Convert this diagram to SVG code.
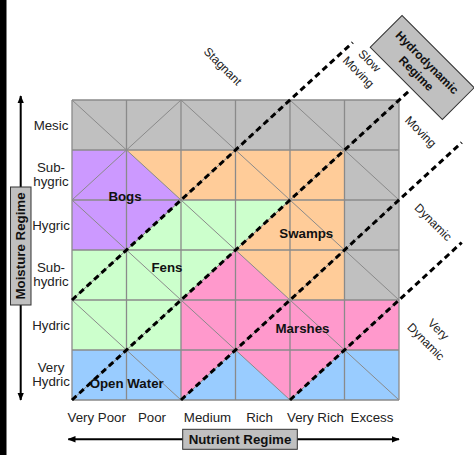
<svg xmlns="http://www.w3.org/2000/svg" width="474" height="455" viewBox="0 0 474 455">
<style>
.lbl{font-family:"Liberation Sans",Arial,sans-serif;font-size:13.3px;fill:#222;text-anchor:middle}
.rot{font-family:"Liberation Sans",Arial,sans-serif;font-size:12px;fill:#222;text-anchor:middle}
.reg{font-family:"Liberation Sans",Arial,sans-serif;font-size:13.3px;font-weight:bold;fill:#111;text-anchor:middle}
.box{fill:#c0c0c0;stroke:#333;stroke-width:1}
.grid{stroke:#8a8a8a;stroke-width:1.3;fill:none}
.diag{stroke:#8a8a8a;stroke-width:1;fill:none}
.dash{stroke:#000;stroke-width:3;stroke-dasharray:6,4;fill:none}
.axis{stroke:#000;stroke-width:2;fill:none}
</style>
<defs>
<marker id="ah" viewBox="0 0 10 10" refX="9" refY="5" markerWidth="4" markerHeight="4" orient="auto" markerUnits="strokeWidth">
<path d="M0,1 L10,5 L0,9 Z" fill="#000"/>
</marker>
</defs>
<rect x="0" y="0" width="474" height="455" fill="#fff"/>
<rect x="0" y="0" width="6.5" height="455" fill="#000"/>

<g id="regions">
<rect id="gray-zone" x="72" y="100" width="327" height="300" fill="#c0c0c0"/>
<polygon id="bogs-fill" points="72,150 126.5,150 181,200 126.5,250 72,250" fill="#cc99ff"/>
<polygon id="swamps-fill" points="126.5,150 344.5,150 344.5,300 290,300 235.5,250 290,200 181,200" fill="#ffcc99"/>
<polygon id="fens-fill" points="72,250 126.5,250 181,200 290,200 235.5,250 181,300 181,350 72,350" fill="#ccffcc"/>
<rect id="water-fill" x="72" y="350" width="327" height="50" fill="#99ccff"/>
<polygon id="marshes-fill" points="181,300 235.5,250 290,300 399,300 399,350 344.5,350 290,400 235.5,350 181,400" fill="#ff99cc"/>
</g>

<g id="grid">
<path class="grid" d="M72,100V400M126.5,100V400M181,100V400M235.5,100V400M290,100V400M344.5,100V400M399,100V400M72,100H399M72,150H399M72,200H399M72,250H399M72,300H399M72,350H399M72,400H399"/>
<path class="diag" d="M72,300L181,400M72,200L290,400M72,100L399,400M181,100L399,300M290,100L399,200M72,200L181,100M72,300L290,100M72,400L399,100M181,400L399,200M290,400L399,300"/>
</g>

<g id="connectors">
<line class="dash" x1="72" y1="300" x2="352.7" y2="42.5"/>
<line class="dash" x1="72" y1="400" x2="410" y2="90"/>
<line class="dash" x1="181" y1="400" x2="461.7" y2="142.5"/>
<line class="dash" x1="290" y1="400" x2="461.7" y2="242.5"/>
<line class="axis" x1="20.7" y1="250" x2="20.7" y2="96" marker-end="url(#ah)"/>
<line class="axis" x1="20.7" y1="250" x2="20.7" y2="400" marker-end="url(#ah)"/>
<line class="axis" x1="240" y1="439.3" x2="68.3" y2="439.3" marker-end="url(#ah)"/>
<line class="axis" x1="240" y1="439.3" x2="399" y2="439.3" marker-end="url(#ah)"/>
</g>

<g id="moisture-regime">
<rect class="box" x="10.5" y="187" width="20.5" height="118"/>
<text class="reg" transform="translate(20.75,246) rotate(-90)" y="4.7">Moisture Regime</text>
</g>
<g id="nutrient-regime">
<rect class="box" x="182.7" y="429.3" width="114.6" height="20"/>
<text class="reg" x="240" y="444">Nutrient Regime</text>
</g>
<g id="hydrodynamic-regime" transform="translate(422.2,67.5) rotate(45)">
<rect class="box" x="-51" y="-22.5" width="102" height="45"/>
<text class="reg" style="font-size:12px" y="-2.9">Hydrodynamic</text>
<text class="reg" style="font-size:12px" y="12.5">Regime</text>
</g>

<g id="region-labels">
<text id="bogs" class="reg" x="125" y="201">Bogs</text>
<text id="fens" class="reg" x="167" y="272">Fens</text>
<text id="swamps" class="reg" x="306.3" y="238">Swamps</text>
<text id="marshes" class="reg" x="302.5" y="333">Marshes</text>
<text id="open-water" class="reg" x="126.7" y="388">Open Water</text>
</g>

<g id="moisture-labels">
<text class="lbl" x="51" y="129.7">Mesic</text>
<text class="lbl" x="51" y="171.5">Sub-</text>
<text class="lbl" x="51" y="186">hygric</text>
<text class="lbl" x="51" y="229.6">Hygric</text>
<text class="lbl" x="51" y="271.5">Sub-</text>
<text class="lbl" x="51" y="286">hydric</text>
<text class="lbl" x="51" y="329.6">Hydric</text>
<text class="lbl" x="51" y="371.5">Very</text>
<text class="lbl" x="51" y="386">Hydric</text>
</g>

<g id="nutrient-labels">
<text class="lbl" x="96.7" y="421.5">Very Poor</text>
<text class="lbl" x="152" y="421.5">Poor</text>
<text class="lbl" x="207.5" y="421.5">Medium</text>
<text class="lbl" x="259.5" y="421.5">Rich</text>
<text class="lbl" x="315.5" y="421.5">Very Rich</text>
<text class="lbl" x="372" y="421.5">Excess</text>
</g>

<g id="hydro-labels">
<text class="rot" transform="translate(222,67) rotate(45)" y="3">Stagnant</text>
<g transform="translate(363.7,66.7) rotate(45)">
<text class="rot" y="-4.2">Slow</text>
<text class="rot" y="11.5">Moving</text>
</g>
<text class="rot" transform="translate(420,132.5) rotate(45)" y="3">Moving</text>
<text class="rot" transform="translate(432.5,223) rotate(45)" y="3">Dynamic</text>
<g transform="translate(430.5,337.2) rotate(45)">
<text class="rot" y="-7">Very</text>
<text class="rot" y="10.5">Dynamic</text>
</g>
</g>
</svg>
